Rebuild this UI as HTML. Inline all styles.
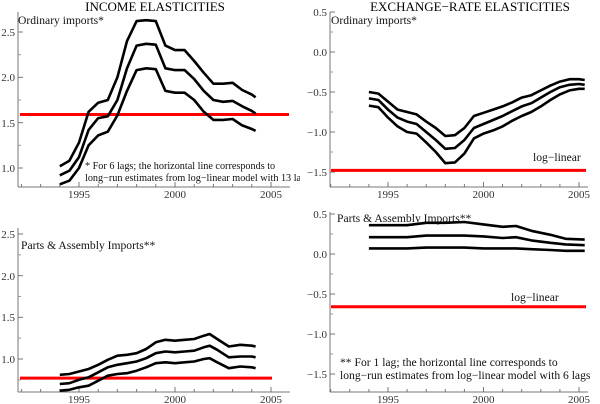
<!DOCTYPE html>
<html><head><meta charset="utf-8">
<style>
body{margin:0;background:#fff;}
svg{display:block;font-family:"Liberation Serif",serif;}
svg text{font-family:"Liberation Serif",serif;}
.t{font-size:11px;fill:#333;}
.l{font-size:11.6px;fill:#111;}
.s{font-size:10.2px;}
</style></head>
<body>
<svg id="c" width="600" height="404" viewBox="0 0 600 404">
<defs><clipPath id="leftclip"><rect x="0" y="0" width="300" height="404"/></clipPath></defs>
<text x="155" y="11" font-size="13" text-anchor="middle">INCOME ELASTICITIES</text>
<text x="470" y="11" font-size="13" text-anchor="middle">EXCHANGE−RATE ELASTICITIES</text>
<g class="t" text-anchor="end">
<text x="15" y="172">1.0</text>
<text x="15" y="127">1.5</text>
<text x="15" y="81">2.0</text>
<text x="15" y="36">2.5</text>
<text x="327" y="16">0.5</text>
<text x="327" y="56">0.0</text>
<text x="327" y="96">−0.5</text>
<text x="327" y="136">−1.0</text>
<text x="327" y="176">−1.5</text>
<text x="15" y="363">1.0</text>
<text x="15" y="321">1.5</text>
<text x="15" y="280">2.0</text>
<text x="15" y="238">2.5</text>
<text x="327" y="218">0.5</text>
<text x="327" y="258">0.0</text>
<text x="327" y="298">−0.5</text>
<text x="327" y="338">−1.0</text>
<text x="327" y="378">−1.5</text>
</g>
<g class="t" text-anchor="middle">
<text x="79" y="198">1995</text>
<text x="175" y="198">2000</text>
<text x="271" y="198">2005</text>
<text x="388" y="198">1995</text>
<text x="483.5" y="198">2000</text>
<text x="579" y="198">2005</text>
<text x="79" y="403">1995</text>
<text x="175" y="403">2000</text>
<text x="271" y="403">2005</text>
<text x="388" y="403">1995</text>
<text x="483.5" y="403">2000</text>
<text x="579" y="403">2005</text>
</g>
<g class="l">
<text x="18" y="24">Ordinary imports*</text>
<text x="331" y="24">Ordinary imports*</text>
<g clip-path="url(#leftclip)" class="s">
<text x="85" y="169">* For 6 lags; the horizontal line corresponds to</text>
<text x="85" y="181">long−run estimates from log−linear model with 13 lags</text>
</g>
<text x="533" y="161">log−linear</text>
<text x="21" y="249">Parts &amp; Assembly Imports**</text>
<text x="337" y="222">Parts &amp; Assembly Imports**</text>
<text x="511" y="301">log−linear</text>
<text x="340" y="366">** For 1 lag; the horizontal line corresponds to</text>
<text x="340" y="379">long−run estimates from log−linear model with 6 lags</text>
</g>
</svg>
<script>
// Panel 1: income, ordinary
const p1Years=[1994,1994.5,1995,1995.5,1996,1996.5,1997,1997.5,1998,1998.5,1999,1999.5,2000,2000.5,2001,2001.5,2002,2002.5,2003,2003.5,2004,2004.2];
const p1Upper=[1.02,1.08,1.28,1.62,1.72,1.75,2.0,2.4,2.62,2.63,2.62,2.35,2.3,2.3,2.18,2.05,1.93,1.93,1.94,1.86,1.81,1.78];
const p1Mid=[0.92,0.97,1.12,1.42,1.55,1.57,1.75,2.1,2.35,2.37,2.36,2.1,2.08,2.08,1.98,1.85,1.75,1.73,1.74,1.68,1.63,1.60];
const p1Lower=[0.82,0.86,1.0,1.25,1.36,1.40,1.58,1.85,2.08,2.1,2.09,1.85,1.83,1.83,1.75,1.62,1.53,1.53,1.54,1.47,1.43,1.41];
const p1Ref=1.59;
const p1Ticks=[1.0,1.5,2.0,2.5];
// Panel 2: exchange, ordinary
const p2Years=[1994,1994.5,1995,1995.5,1996,1996.5,1997,1997.5,1998,1998.5,1999,1999.5,2000,2000.5,2001,2001.5,2002,2002.5,2003,2003.5,2004,2004.5,2005,2005.3];
const p2Upper=[-0.5,-0.52,-0.62,-0.72,-0.75,-0.78,-0.87,-0.95,-1.05,-1.04,-0.95,-0.8,-0.76,-0.72,-0.68,-0.63,-0.57,-0.54,-0.48,-0.42,-0.37,-0.34,-0.34,-0.35];
const p2Mid=[-0.58,-0.6,-0.72,-0.82,-0.87,-0.9,-1.0,-1.1,-1.21,-1.2,-1.1,-0.95,-0.9,-0.85,-0.8,-0.74,-0.68,-0.64,-0.57,-0.5,-0.44,-0.41,-0.4,-0.41];
const p2Lower=[-0.67,-0.69,-0.82,-0.93,-1.0,-1.02,-1.13,-1.25,-1.39,-1.38,-1.27,-1.08,-1.02,-0.98,-0.93,-0.86,-0.8,-0.75,-0.68,-0.6,-0.53,-0.48,-0.46,-0.46];
const p2Ref=-1.48;
const p2Ticks=[-1.5,-1.0,-0.5,0.0,0.5];
// Panel 3: income, parts & assembly
const p3Years=[1994,1994.5,1995,1995.5,1996,1996.5,1997,1997.5,1998,1998.5,1999,1999.5,2000,2000.5,2001,2001.5,2001.8,2002.2,2002.8,2003.4,2004,2004.2];
const p3Upper=[0.81,0.82,0.85,0.88,0.93,0.99,1.04,1.05,1.07,1.12,1.2,1.23,1.22,1.23,1.24,1.28,1.3,1.24,1.15,1.17,1.16,1.15];
const p3Mid=[0.70,0.71,0.75,0.78,0.84,0.90,0.93,0.95,0.97,1.01,1.07,1.09,1.08,1.09,1.10,1.14,1.16,1.11,1.02,1.03,1.03,1.02];
const p3Lower=[0.62,0.63,0.66,0.68,0.74,0.80,0.82,0.83,0.86,0.90,0.95,0.96,0.95,0.96,0.97,1.0,1.01,0.96,0.89,0.91,0.90,0.89];
const p3Ref=0.77;
const p3Ticks=[1.0,1.5,2.0,2.5];
// Panel 4: exchange, parts & assembly
const p4Years=[1994,1995,1996,1997,1998,1999,2000,2001,2001.7,2002.5,2003.5,2004.3,2005.3];
const p4Upper=[0.36,0.36,0.36,0.39,0.39,0.4,0.37,0.34,0.35,0.29,0.24,0.19,0.18];
const p4Mid=[0.21,0.21,0.21,0.23,0.23,0.23,0.22,0.2,0.21,0.17,0.14,0.12,0.11];
const p4Lower=[0.07,0.07,0.07,0.08,0.08,0.08,0.07,0.07,0.07,0.06,0.05,0.04,0.04];
const p4Ref=-0.66;
const p4Ticks=[-1.5,-1.0,-0.5,0.0,0.5];

const svg=document.getElementById('c');
const NS='http://www.w3.org/2000/svg';
function mk(tag,attrs){const e=document.createElementNS(NS,tag);for(const k in attrs)e.setAttribute(k,attrs[k]);svg.appendChild(e);return e;}

function panel(id,cfg,years,series,ref,ticks){
  const xs=y=>cfg.x0+(y-1995)*(cfg.x1-cfg.x0)/10;
  const ys=v=>cfg.yA+(v-cfg.vA)*(cfg.yB-cfg.yA)/(cfg.vB-cfg.vA);
  let e=mk('line',{x1:cfg.ax,y1:cfg.top,x2:cfg.ax,y2:cfg.bot,stroke:'#777','stroke-width':1});
  
  
  e=mk('line',{x1:cfg.ax,y1:cfg.bot,x2:cfg.right,y2:cfg.bot,stroke:'#777','stroke-width':1});
  
  
  for(let yr=1992;yr<=2005;yr++){
    const big=yr%5===0;
    e=mk('line',{x1:xs(yr),y1:cfg.bot,x2:xs(yr),y2:cfg.bot-(big?5:3),stroke:'#777','stroke-width':1});
    
    
  }
  for(let i=0;i<ticks.length;i++){
    const v=ticks[i];
    e=mk('line',{x1:cfg.ax,y1:ys(v),x2:cfg.ax+5,y2:ys(v),stroke:'#777','stroke-width':1});
    
    
    const m=v-0.25;
    if(ys(m)<cfg.bot-2){
      e=mk('line',{x1:cfg.ax,y1:ys(m),x2:cfg.ax+3,y2:ys(m),stroke:'#999','stroke-width':1});
      
      
    }
  }
  e=mk('line',{x1:cfg.refX0,y1:ys(ref),x2:cfg.refX1,y2:ys(ref),stroke:'#f00','stroke-width':3});
  
  
  const names=['upper-band','estimate','lower-band'];
  series.forEach((s,k)=>{
    const pts=years.map((yr,i)=>xs(yr).toFixed(1)+','+ys(s[i]).toFixed(1)).join(' ');
    e=mk('polyline',{points:pts,fill:'none',stroke:'#000','stroke-width':2.6,'stroke-linejoin':'round'});
    
    
  });
}
panel('income-ordinary',{x0:79,x1:271,ax:18,right:290,top:12,bot:187,yA:168,vA:1.0,yB:32,vB:2.5,refX0:20,refX1:289},p1Years,[p1Upper,p1Mid,p1Lower],p1Ref,p1Ticks);
panel('exchange-ordinary',{x0:388,x1:579,ax:330,right:588,top:12,bot:187,yA:52,vA:0,yB:132,vB:-1.0,refX0:331,refX1:586},p2Years,[p2Upper,p2Mid,p2Lower],p2Ref,p2Ticks);
panel('income-parts',{x0:79,x1:271,ax:18,right:290,top:228,bot:392,yA:359,vA:1.0,yB:234,vB:2.5,refX0:20,refX1:272},p3Years,[p3Upper,p3Mid,p3Lower],p3Ref,p3Ticks);
panel('exchange-parts',{x0:388,x1:579,ax:330,right:588,top:212,bot:392,yA:254,vA:0,yB:334,vB:-1.0,refX0:331,refX1:586},p4Years,[p4Upper,p4Mid,p4Lower],p4Ref,p4Ticks);
</script>
</body></html>
